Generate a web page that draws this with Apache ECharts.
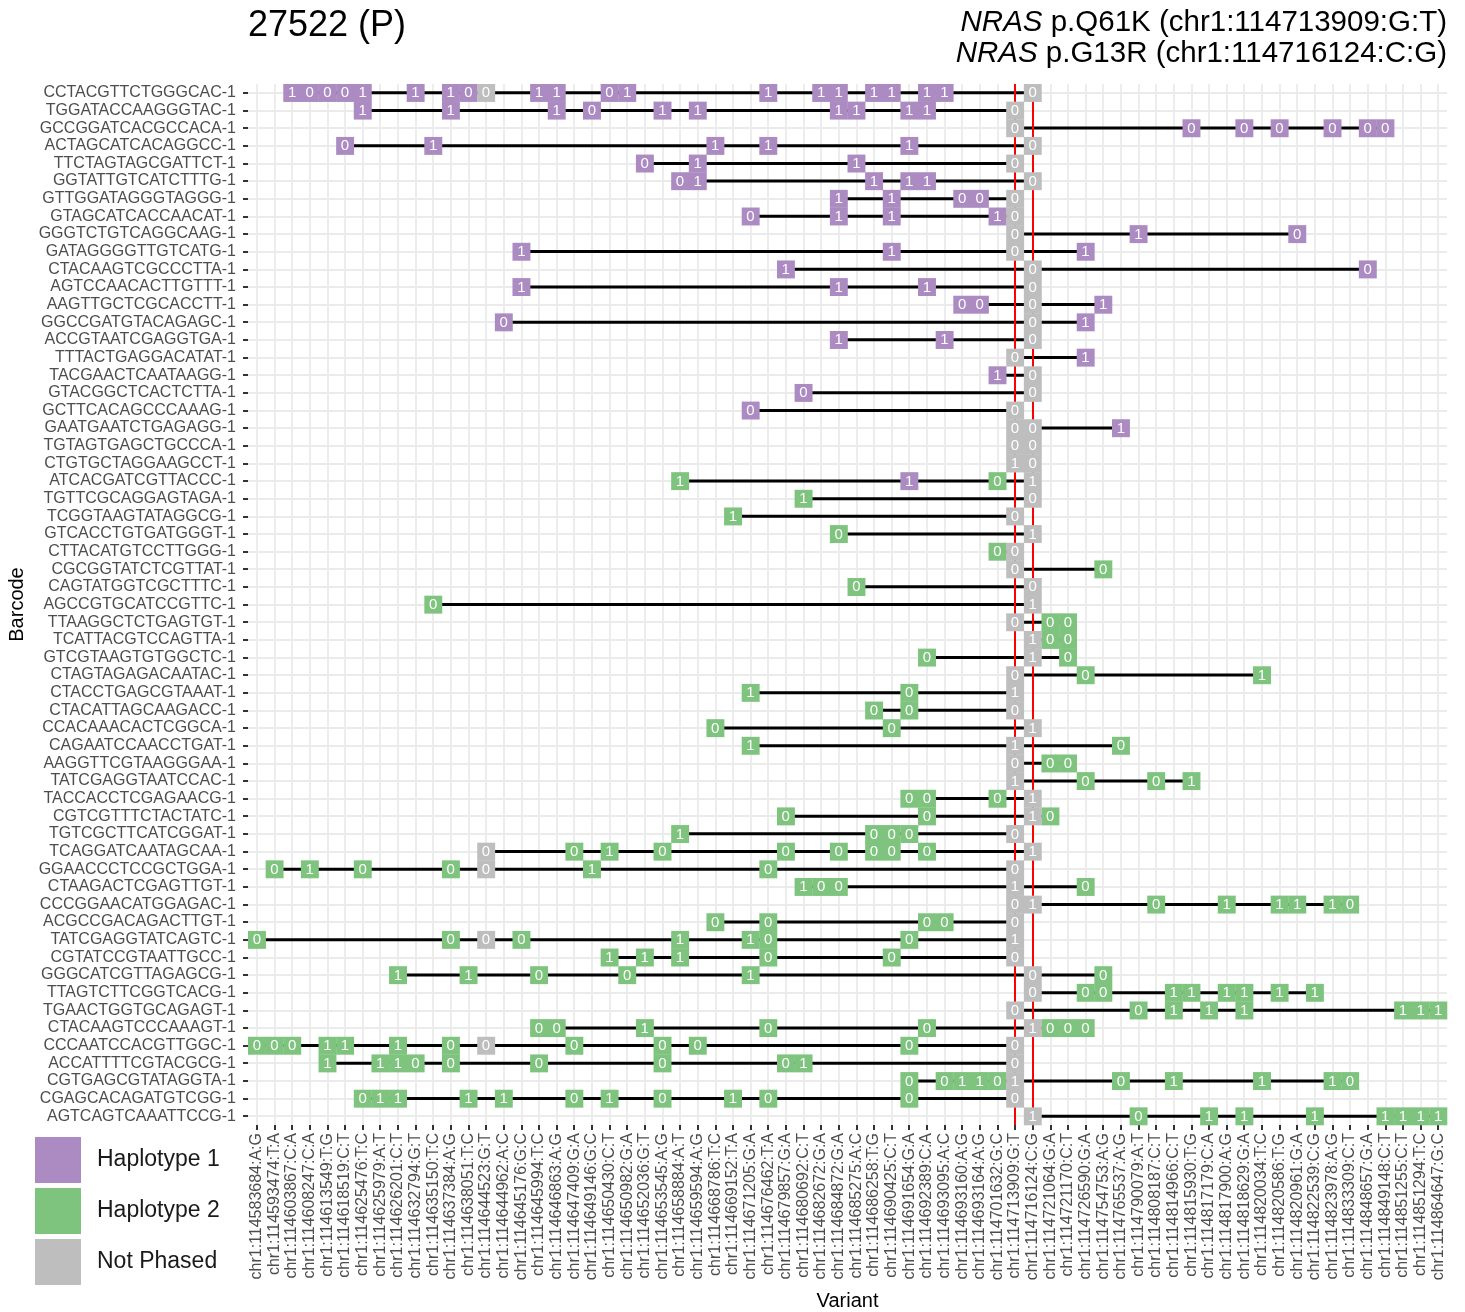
<!DOCTYPE html>
<html><head><meta charset="utf-8">
<script src="https://cdn.jsdelivr.net/npm/echarts@6/dist/echarts.min.js"></script>
<style>html,body{margin:0;padding:0;background:#fff}#chart{width:1465px;height:1312px}</style>
</head><body><div id="chart"></div>
<script>
const variants = [
'chr1:114583684:A:G','chr1:114593474:T:A','chr1:114603867:C:A','chr1:114608247:C:A','chr1:114613549:T:G',
'chr1:114618519:C:T','chr1:114625476:T:C','chr1:114625979:A:T','chr1:114626201:C:T','chr1:114632794:G:T',
'chr1:114635150:T:C','chr1:114637384:A:G','chr1:114638051:T:C','chr1:114644523:G:T','chr1:114644962:A:C',
'chr1:114645176:G:C','chr1:114645994:T:C','chr1:114646863:A:G','chr1:114647409:G:A','chr1:114649146:G:C',
'chr1:114650430:C:T','chr1:114650982:G:A','chr1:114652036:G:T','chr1:114653545:A:G','chr1:114658884:A:T',
'chr1:114659594:A:G','chr1:114668786:T:C','chr1:114669152:T:A','chr1:114671205:G:A','chr1:114676462:T:A',
'chr1:114679857:G:A','chr1:114680692:C:T','chr1:114682672:G:A','chr1:114684872:G:A','chr1:114685275:A:C',
'chr1:114686258:T:G','chr1:114690425:C:T','chr1:114691654:G:A','chr1:114692389:C:A','chr1:114693095:A:C',
'chr1:114693160:A:G','chr1:114693164:A:G','chr1:114701632:G:C','chr1:114713909:G:T','chr1:114716124:C:G',
'chr1:114721064:G:A','chr1:114721170:C:T','chr1:114726590:G:A','chr1:114754753:A:G','chr1:114765537:A:G',
'chr1:114790079:A:T','chr1:114808187:C:T','chr1:114814966:C:T','chr1:114815930:T:G','chr1:114817179:C:A',
'chr1:114817900:A:G','chr1:114818629:G:A','chr1:114820034:T:C','chr1:114820586:T:G','chr1:114820961:G:A',
'chr1:114822539:C:G','chr1:114823978:A:G','chr1:114833309:C:T','chr1:114848657:G:A','chr1:114849148:C:T',
'chr1:114851255:C:T','chr1:114851294:T:C','chr1:114864647:G:C'];

const barcodes = [
'CCTACGTTCTGGGCAC-1','TGGATACCAAGGGTAC-1','GCCGGATCACGCCACA-1','ACTAGCATCACAGGCC-1','TTCTAGTAGCGATTCT-1',
'GGTATTGTCATCTTTG-1','GTTGGATAGGGTAGGG-1','GTAGCATCACCAACAT-1','GGGTCTGTCAGGCAAG-1','GATAGGGGTTGTCATG-1',
'CTACAAGTCGCCCTTA-1','AGTCCAACACTTGTTT-1','AAGTTGCTCGCACCTT-1','GGCCGATGTACAGAGC-1','ACCGTAATCGAGGTGA-1',
'TTTACTGAGGACATAT-1','TACGAACTCAATAAGG-1','GTACGGCTCACTCTTA-1','GCTTCACAGCCCAAAG-1','GAATGAATCTGAGAGG-1',
'TGTAGTGAGCTGCCCA-1','CTGTGCTAGGAAGCCT-1','ATCACGATCGTTACCC-1','TGTTCGCAGGAGTAGA-1','TCGGTAAGTATAGGCG-1',
'GTCACCTGTGATGGGT-1','CTTACATGTCCTTGGG-1','CGCGGTATCTCGTTAT-1','CAGTATGGTCGCTTTC-1','AGCCGTGCATCCGTTC-1',
'TTAAGGCTCTGAGTGT-1','TCATTACGTCCAGTTA-1','GTCGTAAGTGTGGCTC-1','CTAGTAGAGACAATAC-1','CTACCTGAGCGTAAAT-1',
'CTACATTAGCAAGACC-1','CCACAAACACTCGGCA-1','CAGAATCCAACCTGAT-1','AAGGTTCGTAAGGGAA-1','TATCGAGGTAATCCAC-1',
'TACCACCTCGAGAACG-1','CGTCGTTTCTACTATC-1','TGTCGCTTCATCGGAT-1','TCAGGATCAATAGCAA-1','GGAACCCTCCGCTGGA-1',
'CTAAGACTCGAGTTGT-1','CCCGGAACATGGAGAC-1','ACGCCGACAGACTTGT-1','TATCGAGGTATCAGTC-1','CGTATCCGTAATTGCC-1',
'GGGCATCGTTAGAGCG-1','TTAGTCTTCGGTCACG-1','TGAACTGGTGCAGAGT-1','CTACAAGTCCCAAAGT-1','CCCAATCCACGTTGGC-1',
'ACCATTTTCGTACGCG-1','CGTGAGCGTATAGGTA-1','CGAGCACAGATGTCGG-1','AGTCAGTCAAATTCCG-1'];

const markedVariants = ['chr1:114713909:G:T','chr1:114716124:C:G'];

// [barcode index, variant index, allele]
const haplotype1 = [
[0,2,1],[0,3,0],[0,4,0],[0,5,0],[0,6,1],[0,9,1],[0,11,1],[0,12,0],[0,16,1],[0,17,1],[0,20,0],[0,21,1],[0,29,1],[0,32,1],[0,33,1],[0,35,1],[0,36,1],[0,38,1],[0,39,1],
[1,6,1],[1,11,1],[1,17,1],[1,19,0],[1,23,1],[1,25,1],[1,33,1],[1,34,1],[1,37,1],[1,38,1],
[2,53,0],[2,56,0],[2,58,0],[2,61,0],[2,63,0],[2,64,0],
[3,5,0],[3,10,1],[3,26,1],[3,29,1],[3,37,1],
[4,22,0],[4,25,1],[4,34,1],
[5,24,0],[5,25,1],[5,35,1],[5,37,1],[5,38,1],
[6,33,1],[6,36,1],[6,40,0],[6,41,0],
[7,28,0],[7,33,1],[7,36,1],[7,42,1],
[8,50,1],[8,59,0],
[9,15,1],[9,36,1],[9,47,1],
[10,30,1],[10,63,0],
[11,15,1],[11,33,1],[11,38,1],
[12,40,0],[12,41,0],[12,48,1],
[13,14,0],[13,47,1],
[14,33,1],[14,39,1],
[15,47,1],
[16,42,1],
[17,31,0],
[18,28,0],
[19,49,1],
[22,37,1]];

const haplotype2 = [
[22,24,1],[22,42,0],
[23,31,1],
[24,27,1],
[25,33,0],
[26,42,0],
[27,48,0],
[28,34,0],
[29,10,0],
[30,45,0],[30,46,0],
[31,45,0],[31,46,0],
[32,38,0],[32,46,0],
[33,47,0],[33,57,1],
[34,28,1],[34,37,0],
[35,35,0],[35,37,0],
[36,26,0],[36,36,0],
[37,28,1],[37,49,0],
[38,45,0],[38,46,0],
[39,47,0],[39,51,0],[39,53,1],
[40,37,0],[40,38,0],[40,42,0],
[41,30,0],[41,38,0],[41,45,0],
[42,24,1],[42,35,0],[42,36,0],[42,37,0],
[43,18,0],[43,20,1],[43,23,0],[43,30,0],[43,33,0],[43,35,0],[43,36,0],[43,38,0],
[44,1,0],[44,3,1],[44,6,0],[44,11,0],[44,19,1],[44,29,0],
[45,31,1],[45,32,0],[45,33,0],[45,47,0],
[46,51,0],[46,55,1],[46,58,1],[46,59,1],[46,61,1],[46,62,0],
[47,26,0],[47,29,0],[47,38,0],[47,39,0],
[48,0,0],[48,11,0],[48,15,0],[48,24,1],[48,28,1],[48,29,0],[48,37,0],
[49,20,1],[49,22,1],[49,24,1],[49,29,0],[49,36,0],
[50,8,1],[50,12,1],[50,16,0],[50,21,0],[50,28,1],[50,48,0],
[51,47,0],[51,48,0],[51,52,1],[51,53,1],[51,55,1],[51,56,1],[51,58,1],[51,60,1],
[52,50,0],[52,52,1],[52,54,1],[52,56,1],[52,65,1],[52,66,1],[52,67,1],
[53,16,0],[53,17,0],[53,22,1],[53,29,0],[53,38,0],[53,45,0],[53,46,0],[53,47,0],
[54,0,0],[54,1,0],[54,2,0],[54,4,1],[54,5,1],[54,8,1],[54,11,0],[54,18,0],[54,23,0],[54,25,0],[54,37,0],
[55,4,1],[55,7,1],[55,8,1],[55,9,0],[55,11,0],[55,16,0],[55,23,0],[55,30,0],[55,31,1],
[56,37,0],[56,39,0],[56,40,1],[56,41,1],[56,42,0],[56,49,0],[56,52,1],[56,57,1],[56,61,1],[56,62,0],
[57,6,0],[57,7,1],[57,8,1],[57,12,1],[57,14,1],[57,18,0],[57,20,1],[57,23,0],[57,27,1],[57,29,0],[57,37,0],
[58,50,0],[58,54,1],[58,56,1],[58,60,1],[58,64,1],[58,65,1],[58,66,1],[58,67,1]];

const notPhased = [
[0,13,0],[0,44,0],[1,43,0],[2,43,0],[3,44,0],[4,43,0],[5,44,0],[6,43,0],[7,43,0],[8,43,0],
[9,43,0],[10,44,0],[11,44,0],[12,44,0],[13,44,0],[14,44,0],[15,43,0],[16,44,0],[17,44,0],[18,43,0],
[19,43,0],[19,44,0],[20,43,0],[20,44,0],[21,43,1],[21,44,0],[22,44,1],[23,44,0],[24,43,0],[25,44,1],
[26,43,0],[27,43,0],[28,44,0],[29,44,1],[30,43,0],[31,44,1],[32,44,1],[33,43,0],[34,43,1],[35,43,0],
[36,44,1],[37,43,1],[38,43,0],[39,43,1],[40,44,1],[41,44,1],[42,43,0],[43,13,0],[43,44,1],[44,13,0],
[44,43,0],[45,43,1],[46,43,0],[46,44,1],[47,43,0],[48,13,0],[48,43,1],[49,43,0],[50,44,0],[51,44,0],
[52,43,0],[53,44,1],[54,13,0],[54,43,0],[55,43,0],[56,43,1],[57,43,0],[58,44,1]];

const legendNames = ['Haplotype 1','Haplotype 2','Not Phased'];
const colors = ['#AB8BC1','#7FC47E','#BEBEBE'];
const FONT = 'Liberation Sans, Arial, sans-serif';

// connecting line per barcode: from first to last observed variant
const allCells = haplotype1.concat(haplotype2, notPhased);
const spans = barcodes.map((b, r) => {
  const cols = allCells.filter(c => c[0] === r).map(c => c[1]);
  return [Math.min(...cols), Math.max(...cols), r];
});

function tileSeries(name, cells, color) {
  return {
    name, type: 'custom', z: 5,
    encode: { x: 0, y: 1 },
    itemStyle: { color },
    data: cells.map(c => [c[1], c[0], c[2]]),
    renderItem: (params, api) => {
      const p = api.coord([api.value(0), api.value(1)]);
      const s = api.size([1, 1]);
      return {
        type: 'group',
        children: [
          { type: 'rect', shape: { x: p[0] - s[0] / 2, y: p[1] - s[1] / 2, width: s[0] + 0.3, height: s[1] + 0.3 },
            style: { fill: color } },
          { type: 'text', style: { text: String(api.value(2)), x: p[0], y: p[1] + 0.5, align: 'center',
            verticalAlign: 'middle', fill: '#ffffff', fontSize: 15, fontFamily: FONT } }
        ]
      };
    }
  };
}

const chart = echarts.init(document.getElementById('chart'), null, { renderer: 'canvas' });
chart.setOption({
  animation: false,
  backgroundColor: '#ffffff',
  title: [
    { text: '27522 (P)', left: 248, top: 8, padding: 0,
      textStyle: { fontSize: 36, fontWeight: 'normal', color: '#000', fontFamily: FONT } },
    { text: '{i|NRAS} p.Q61K (chr1:114713909:G:T)', right: 18, top: 8, padding: 0,
      textStyle: { fontSize: 29.5, fontWeight: 'normal', color: '#000', fontFamily: FONT,
        rich: { i: { fontStyle: 'italic', fontSize: 29.5, color: '#000', fontFamily: FONT } } } },
    { text: '{i|NRAS} p.G13R (chr1:114716124:C:G)', right: 18, top: 39, padding: 0,
      textStyle: { fontSize: 29.5, fontWeight: 'normal', color: '#000', fontFamily: FONT,
        rich: { i: { fontStyle: 'italic', fontSize: 29.5, color: '#000', fontFamily: FONT } } } }
  ],
  legend: {
    orient: 'vertical', left: 35, top: 1137, padding: 0,
    itemWidth: 46, itemHeight: 46, itemGap: 5, icon: 'rect',
    data: legendNames,
    textStyle: { fontSize: 23, color: '#1a1a1a', fontFamily: FONT, padding: [0, 0, 0, 11] }
  },
  grid: { left: 248, right: 18, top: 84, bottom: 187, containLabel: false, outerBoundsMode: 'none' },
  xAxis: {
    type: 'category', data: variants, boundaryGap: true,
    name: 'Variant', nameLocation: 'middle', nameGap: 166,
    nameTextStyle: { fontSize: 20, color: '#000', fontFamily: FONT },
    axisLine: { show: false },
    axisTick: { show: true, alignWithLabel: true, length: 5, lineStyle: { color: '#333', width: 2 } },
    axisLabel: { interval: 0, rotate: 90, margin: 8, fontSize: 16, color: '#4d4d4d', fontFamily: FONT },
    splitLine: { show: true, alignWithLabel: true, interval: 0, lineStyle: { color: '#ebebeb', width: 1.8 } }
  },
  yAxis: {
    type: 'category', data: barcodes, inverse: true, boundaryGap: true,
    name: 'Barcode', nameLocation: 'middle', nameGap: 219, nameRotate: 90,
    nameTextStyle: { fontSize: 20, color: '#000', fontFamily: FONT },
    axisLine: { show: false },
    axisTick: { show: true, alignWithLabel: true, length: 5, lineStyle: { color: '#333', width: 2 } },
    axisLabel: { interval: 0, margin: 12, fontSize: 16, color: '#4d4d4d', fontFamily: FONT },
    splitLine: { show: true, alignWithLabel: true, interval: 0, lineStyle: { color: '#ebebeb', width: 1.8 } }
  },
  series: [
    {
      name: 'links', type: 'custom', z: 2, silent: true,
      encode: { x: [0, 1], y: 2 },
      data: spans,
      renderItem: (params, api) => {
        const a = api.coord([api.value(0), api.value(2)]);
        const b = api.coord([api.value(1), api.value(2)]);
        return { type: 'line', shape: { x1: a[0], y1: a[1], x2: b[0], y2: b[1] },
          style: { stroke: '#000', lineWidth: 3 } };
      },
      markLine: {
        silent: true, symbol: 'none', label: { show: false },
        lineStyle: { color: '#ff0000', width: 2, type: 'solid' },
        data: markedVariants.map(v => ({ xAxis: v }))
      }
    },
    tileSeries(legendNames[0], haplotype1, colors[0]),
    tileSeries(legendNames[1], haplotype2, colors[1]),
    tileSeries(legendNames[2], notPhased, colors[2])
  ]
});
</script></body></html>
